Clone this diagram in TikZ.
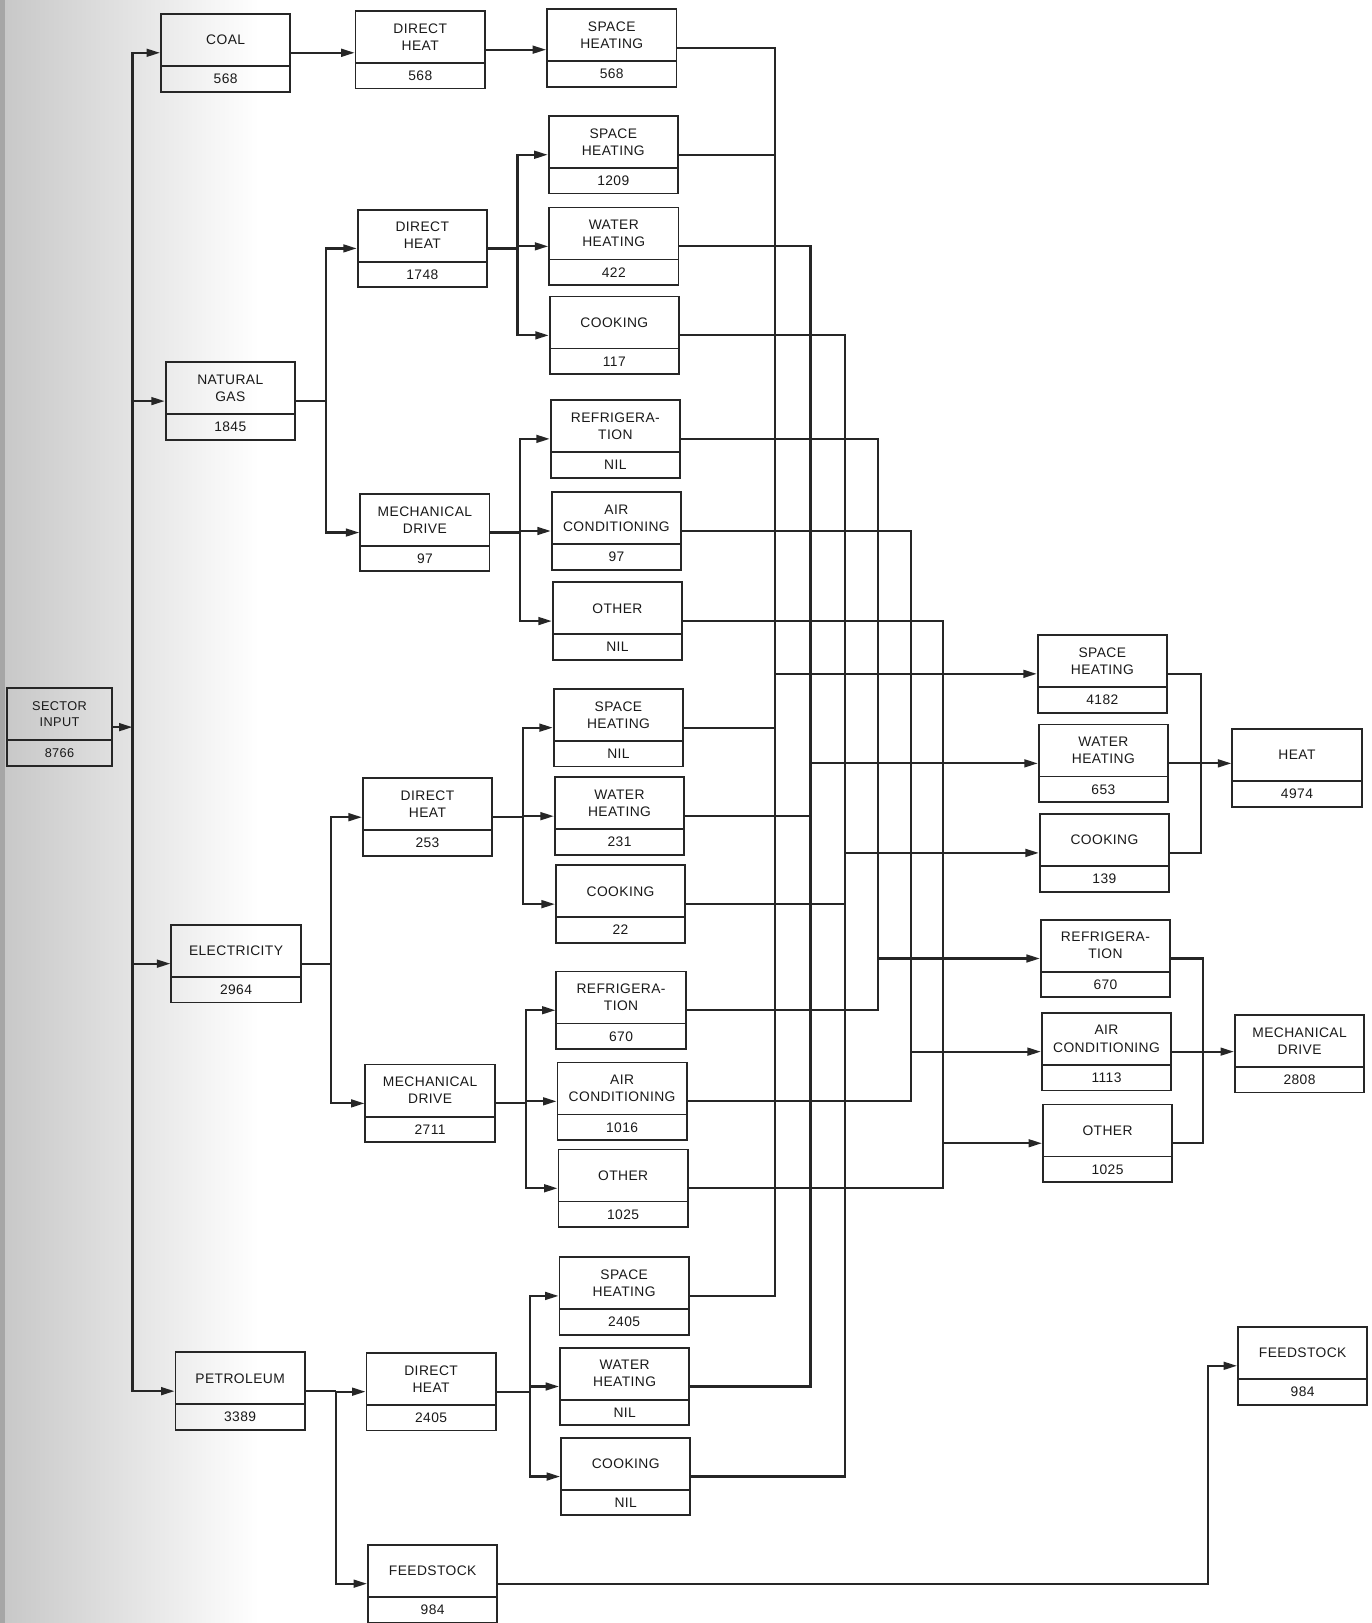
\documentclass[tikz,border=0pt]{standalone}
\usepackage{fontspec}
\setmainfont{Liberation Sans}[LetterSpace=3.0]
\usetikzlibrary{shapes.multipart,arrows.meta}

\newcommand{\twopart}[3][2.4cm]{%
  \parbox[c][0.97cm][c]{#1}{\centering #2}%
  \nodepart{two}\parbox[c][0.46cm][c]{#1}{\centering #3}}

\begin{document}
\begin{tikzpicture}[x=0.02cm, y=-0.02cm]
  \tikzset{EBox/.style={rectangle split, rectangle split parts=2, draw=black!85,
      line width=1pt, inner xsep=0.05cm, inner ysep=0pt, text=black!90,
      font=\fontsize{7.6}{9.4}\selectfont}}
  \tikzset{Flow/.style={line width=1.2pt, draw=black!85}}
  \tikzset{FlowArrow/.style={Flow, -{Triangle[length=2.6mm,width=1.5mm]}}}

  \useasboundingbox (0,0) rectangle (1325,1568);
  % scanned page shadow on the left
  \shade[left color=black!22, right color=white] (0,0) rectangle (250,1568);
  \fill[black!35] (0,0) rectangle (5,1568);

  % bus lines
  \coordinate (xin) at (128,0);
  \coordinate (xng) at (315,0);
  \coordinate (xel) at (320,0);
  \coordinate (xpe) at (325,0);
  \coordinate (xa) at (500,0);
  \coordinate (xb) at (502,0);
  \coordinate (xc) at (505,0);
  \coordinate (xd) at (508,0);
  \coordinate (xe) at (512,0);
  \coordinate (xsh) at (749,0);
  \coordinate (xwh) at (783,0);
  \coordinate (xck) at (816,0);
  \coordinate (xrf) at (848,0);
  \coordinate (xac) at (880,0);
  \coordinate (xot) at (911,0);
  \coordinate (xht) at (1160,0);
  \coordinate (xmd) at (1162,0);
  \coordinate (xfs) at (1167,0);

  \node[EBox, font=\fontsize{7}{8.8}\selectfont] (input) at (57.5,702.5) {\twopart[1.92cm]{SECTOR\\INPUT}{8766}};

  % fuels
  \node[EBox] (coal)  at (218,51)      {\twopart{COAL}{568}};
  \node[EBox] (ngas)  at (222.5,387.5) {\twopart{NATURAL\\GAS}{1845}};
  \node[EBox] (elec)  at (228,931)     {\twopart{ELECTRICITY}{2964}};
  \node[EBox] (petro) at (232,1344)    {\twopart{PETROLEUM}{3389}};

  % end uses by fuel
  \node[EBox] (dh1) at (406,48)       {\twopart{DIRECT\\HEAT}{568}};
  \node[EBox] (dh2) at (408,240)      {\twopart{DIRECT\\HEAT}{1748}};
  \node[EBox] (md2) at (410.5,514.5)  {\twopart{MECHANICAL\\DRIVE}{97}};
  \node[EBox] (dh3) at (413,789.5)    {\twopart{DIRECT\\HEAT}{253}};
  \node[EBox] (md3) at (415.5,1066)   {\twopart{MECHANICAL\\DRIVE}{2711}};
  \node[EBox] (dh4) at (416.5,1344.5) {\twopart{DIRECT\\HEAT}{2405}};
  \node[EBox] (fs4) at (418,1530)     {\twopart{FEEDSTOCK}{984}};

  % functions by fuel
  \node[EBox] (sh1) at (591,46.5)    {\twopart{SPACE\\HEATING}{568}};
  \node[EBox] (sh2) at (592.5,149.5) {\twopart{SPACE\\HEATING}{1209}};
  \node[EBox] (wh2) at (593,238)     {\twopart{WATER\\HEATING}{422}};
  \node[EBox] (ck2) at (593.5,324)   {\twopart{COOKING}{117}};
  \node[EBox] (rf2) at (594.5,424)   {\twopart{REFRIGERA-\\TION}{NIL}};
  \node[EBox] (ac2) at (595.5,513)   {\twopart{AIR\\CONDITIONING}{97}};
  \node[EBox] (ot2) at (596.5,600)   {\twopart{OTHER}{NIL}};
  \node[EBox] (sh3) at (597.5,703)   {\twopart{SPACE\\HEATING}{NIL}};
  \node[EBox] (wh3) at (598.5,788.5) {\twopart{WATER\\HEATING}{231}};
  \node[EBox] (ck3) at (599.5,873.5) {\twopart{COOKING}{22}};
  \node[EBox] (rf3) at (600,976)     {\twopart{REFRIGERA-\\TION}{670}};
  \node[EBox] (ac3) at (601,1064)    {\twopart{AIR\\CONDITIONING}{1016}};
  \node[EBox] (ot3) at (602,1148)    {\twopart{OTHER}{1025}};
  \node[EBox] (sh4) at (603,1252)    {\twopart{SPACE\\HEATING}{2405}};
  \node[EBox] (wh4) at (603.5,1339.5) {\twopart{WATER\\HEATING}{NIL}};
  \node[EBox] (ck4) at (604.5,1426.5) {\twopart{COOKING}{NIL}};

  % function totals
  \node[EBox] (shT) at (1065,651)    {\twopart{SPACE\\HEATING}{4182}};
  \node[EBox] (whT) at (1066,737.5)  {\twopart{WATER\\HEATING}{653}};
  \node[EBox] (ckT) at (1067,824)    {\twopart{COOKING}{139}};
  \node[EBox] (rfT) at (1068,926)    {\twopart{REFRIGERA-\\TION}{670}};
  \node[EBox] (acT) at (1069,1016)   {\twopart{AIR\\CONDITIONING}{1113}};
  \node[EBox] (otT) at (1070,1104.5) {\twopart{OTHER}{1025}};

  % sector totals
  \node[EBox] (heat) at (1253,742)    {\twopart{HEAT}{4974}};
  \node[EBox] (mech) at (1255.5,1018) {\twopart{MECHANICAL\\DRIVE}{2808}};
  \node[EBox] (fsT)  at (1258.5,1319.5) {\twopart{FEEDSTOCK}{984}};

  % input to fuels
  \draw[FlowArrow] (input.east) -- (input.east -| xin);
  \foreach \f in {coal,ngas,elec,petro}
    \draw[FlowArrow] (input.east -| xin) |- (\f.west);

  % fuels to end uses
  \draw[FlowArrow] (coal.east) -- (coal.east -| dh1.west);
  \draw[Flow] (ngas.east) -- (ngas.east -| xng);
  \foreach \t in {dh2,md2}
    \draw[FlowArrow] (ngas.east -| xng) |- (\t.west);
  \draw[Flow] (elec.east) -- (elec.east -| xel);
  \foreach \t in {dh3,md3}
    \draw[FlowArrow] (elec.east -| xel) |- (\t.west);
  \draw[Flow] (petro.east) -- (petro.east -| xpe);
  \foreach \t in {dh4,fs4}
    \draw[FlowArrow] (petro.east -| xpe) |- (\t.west);

  % end uses to functions
  \draw[FlowArrow] (dh1.east) -- (dh1.east -| sh1.west);
  \draw[Flow] (dh2.east) -- (dh2.east -| xa);
  \foreach \t in {sh2,wh2,ck2}
    \draw[FlowArrow] (dh2.east -| xa) |- (\t.west);
  \draw[Flow] (md2.east) -- (md2.east -| xb);
  \foreach \t in {rf2,ac2,ot2}
    \draw[FlowArrow] (md2.east -| xb) |- (\t.west);
  \draw[Flow] (dh3.east) -- (dh3.east -| xc);
  \foreach \t in {sh3,wh3,ck3}
    \draw[FlowArrow] (dh3.east -| xc) |- (\t.west);
  \draw[Flow] (md3.east) -- (md3.east -| xd);
  \foreach \t in {rf3,ac3,ot3}
    \draw[FlowArrow] (md3.east -| xd) |- (\t.west);
  \draw[Flow] (dh4.east) -- (dh4.east -| xe);
  \foreach \t in {sh4,wh4,ck4}
    \draw[FlowArrow] (dh4.east -| xe) |- (\t.west);

  % functions collected
  \foreach \s in {sh1,sh2,sh3,sh4}
    \draw[Flow] (\s.east) -| (xsh |- shT.west);
  \draw[FlowArrow] (xsh |- shT.west) -- (shT.west);
  \foreach \s in {wh2,wh3,wh4}
    \draw[Flow] (\s.east) -| (xwh |- whT.west);
  \draw[FlowArrow] (xwh |- whT.west) -- (whT.west);
  \foreach \s in {ck2,ck3,ck4}
    \draw[Flow] (\s.east) -| (xck |- ckT.west);
  \draw[FlowArrow] (xck |- ckT.west) -- (ckT.west);
  \foreach \s in {rf2,rf3}
    \draw[Flow] (\s.east) -| (xrf |- rfT.west);
  \draw[FlowArrow] (xrf |- rfT.west) -- (rfT.west);
  \foreach \s in {ac2,ac3}
    \draw[Flow] (\s.east) -| (xac |- acT.west);
  \draw[FlowArrow] (xac |- acT.west) -- (acT.west);
  \foreach \s in {ot2,ot3}
    \draw[Flow] (\s.east) -| (xot |- otT.west);
  \draw[FlowArrow] (xot |- otT.west) -- (otT.west);

  % totals
  \foreach \s in {shT,ckT}
    \draw[Flow] (\s.east) -| (xht |- whT.east);
  \draw[FlowArrow] (whT.east) -- (whT.east -| heat.west);
  \foreach \s in {rfT,otT}
    \draw[Flow] (\s.east) -| (xmd |- acT.east);
  \draw[FlowArrow] (acT.east) -- (acT.east -| mech.west);
  \draw[FlowArrow] (fs4.east) -| (xfs |- fsT.west) -- (fsT.west);
\end{tikzpicture}
\end{document}
